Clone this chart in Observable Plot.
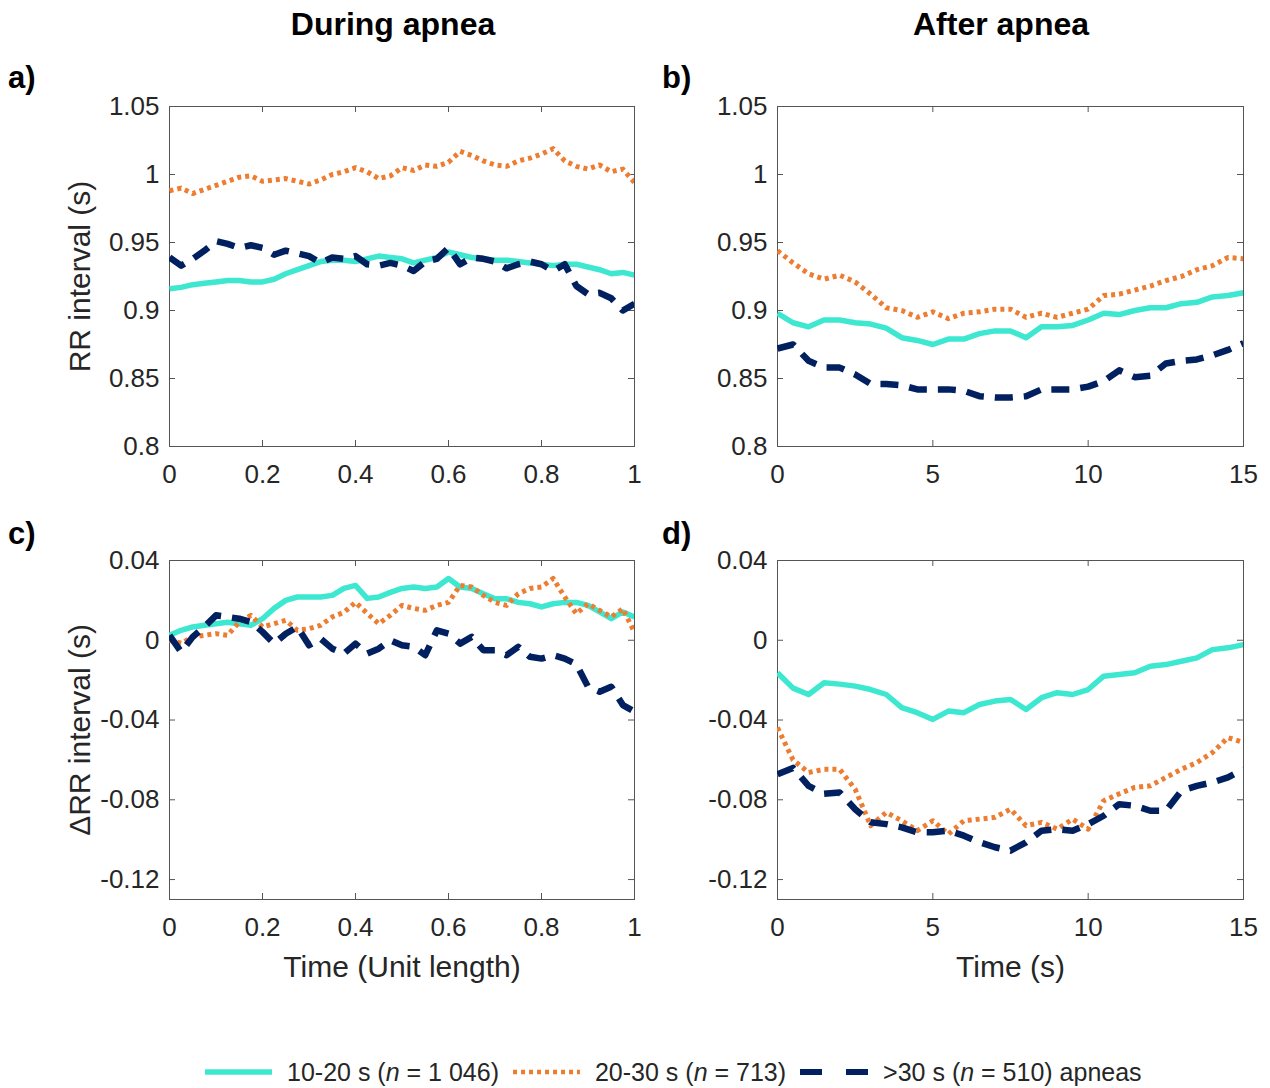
<!DOCTYPE html>
<html>
<head>
<meta charset="utf-8">
<script src="https://cdn.jsdelivr.net/npm/d3@7"></script>
<script src="https://cdn.jsdelivr.net/npm/@observablehq/plot@0.6"></script>
<style>
  body { margin: 0; background: #fff; font-family: "Liberation Sans", Arial, Helvetica, sans-serif; }
  #wrap { position: relative; width: 1270px; height: 1088px; overflow: hidden; background: #fff; }
  .abs { position: absolute; }
  .title { font-weight: bold; font-size: 32px; line-height: 36px; color: #000; transform: translateX(-50%); white-space: nowrap; }
  .plab { font-weight: bold; font-size: 31px; line-height: 36px; color: #000; }
  #legend { position: absolute; left: 205px; top: 1056px; height: 32px; display: flex; align-items: center; font-size: 25px; color: #262626; white-space: nowrap; }
  #legend svg { display: block; margin-right: 15px; }
  #legend span { margin-right: 14px; }
</style>
</head>
<body>
<div id="wrap">
  <div class="abs title" style="left:393px; top:6px;">During apnea</div>
  <div class="abs title" style="left:1001px; top:6px;">After apnea</div>
  <div class="abs plab" style="left:8px; top:60px;">a)</div>
  <div class="abs plab" style="left:662px; top:60px;">b)</div>
  <div class="abs plab" style="left:8px; top:516px;">c)</div>
  <div class="abs plab" style="left:662px; top:516px;">d)</div>
  <div id="pa" class="abs" style="left:0px; top:80px;"></div>
  <div id="pb" class="abs" style="left:640px; top:80px;"></div>
  <div id="pc" class="abs" style="left:0px; top:534px;"></div>
  <div id="pd" class="abs" style="left:640px; top:534px;"></div>
  <div id="legend">
    <svg width="67" height="12"><line x1="0" y1="6" x2="67" y2="6" stroke="#3EE8D0" stroke-width="5.5"/></svg>
    <span>10-20 s (<i>n</i> = 1 046)</span>
    <svg width="67" height="12"><line x1="0" y1="6" x2="67" y2="6" stroke="#ED7D31" stroke-width="4.5" stroke-dasharray="4,4"/></svg>
    <span>20-30 s (<i>n</i> = 713)</span>
    <svg width="68" height="12"><line x1="0" y1="6" x2="68" y2="6" stroke="#002060" stroke-width="6" stroke-dasharray="22,24"/></svg>
    <span>&gt;30 s (<i>n</i> = 510) apneas</span>
  </div>
</div>
<script>
// ---------- x grids ----------
const xUnit = [0,0.025,0.05,0.075,0.1,0.125,0.15,0.175,0.2,0.225,0.25,0.275,0.3,0.325,0.35,0.375,0.4,0.425,0.45,0.475,0.5,0.525,0.55,0.575,0.6,0.625,0.65,0.675,0.7,0.725,0.75,0.775,0.8,0.825,0.85,0.875,0.9,0.925,0.95,0.975,1];
const xSec = [0,0.5,1,1.5,2,2.5,3,3.5,4,4.5,5,5.5,6,6.5,7,7.5,8,8.5,9,9.5,10,10.5,11,11.5,12,12.5,13,13.5,14,14.5,15];

// ---------- tick labels ----------
const xTicksUnit = [0,0.2,0.4,0.6,0.8,1];
const xTicksSec = [0,5,10,15];
const yTicksRR = [0.8,0.85,0.9,0.95,1,1.05];
const yTicksDelta = [-0.12,-0.08,-0.04,0,0.04];

// ---------- series names ----------
const seriesNames = ["10-20 s", "20-30 s", ">30 s"];

// ---------- a) RR interval during apnea ----------
const a_10_20 = [0.916,0.917,0.919,0.920,0.921,0.922,0.922,0.921,0.921,0.923,0.927,0.930,0.933,0.936,0.937,0.937,0.936,0.938,0.940,0.939,0.938,0.935,0.937,0.939,0.943,0.941,0.939,0.938,0.937,0.937,0.936,0.935,0.934,0.933,0.934,0.934,0.932,0.930,0.927,0.928,0.926];
const a_20_30 = [0.988,0.990,0.986,0.989,0.992,0.995,0.998,0.999,0.995,0.996,0.997,0.995,0.993,0.996,1.000,1.002,1.005,1.002,0.997,0.999,1.005,1.003,1.007,1.006,1.009,1.017,1.014,1.010,1.007,1.006,1.010,1.012,1.015,1.019,1.010,1.006,1.004,1.007,1.002,1.004,0.994];
const a_30 = [0.939,0.933,0.938,0.944,0.951,0.949,0.946,0.948,0.946,0.941,0.944,0.942,0.940,0.935,0.939,0.938,0.940,0.934,0.933,0.935,0.933,0.929,0.936,0.938,0.946,0.934,0.939,0.938,0.936,0.931,0.934,0.936,0.934,0.929,0.934,0.918,0.912,0.913,0.909,0.900,0.905];

// ---------- b) RR interval after apnea ----------
const b_10_20 = [0.898,0.891,0.888,0.893,0.893,0.891,0.890,0.887,0.880,0.878,0.875,0.879,0.879,0.883,0.885,0.885,0.880,0.888,0.888,0.889,0.893,0.898,0.897,0.900,0.902,0.902,0.905,0.906,0.910,0.911,0.913];
const b_20_30 = [0.944,0.935,0.927,0.923,0.926,0.921,0.912,0.902,0.900,0.895,0.899,0.894,0.898,0.899,0.901,0.901,0.895,0.898,0.895,0.898,0.901,0.911,0.912,0.915,0.918,0.922,0.925,0.930,0.933,0.939,0.938];
const b_30 = [0.872,0.875,0.863,0.858,0.858,0.853,0.846,0.846,0.845,0.842,0.842,0.842,0.841,0.837,0.836,0.836,0.837,0.842,0.842,0.842,0.844,0.848,0.856,0.851,0.852,0.861,0.863,0.864,0.867,0.871,0.876];

// ---------- c) ΔRR interval during apnea ----------
const c_10_20 = [0.0025,0.005,0.0067,0.0075,0.0083,0.009,0.0083,0.0075,0.0108,0.016,0.02,0.0217,0.0217,0.0217,0.0225,0.026,0.0275,0.021,0.0217,0.024,0.026,0.0267,0.026,0.0267,0.031,0.0267,0.026,0.0233,0.0208,0.0208,0.019,0.0183,0.0167,0.0183,0.019,0.019,0.0175,0.0142,0.0108,0.0142,0.0117];
const c_20_30 = [0,-0.0015,0.0017,0.0025,0.0033,0.0025,0.0092,0.0125,0.0067,0.0083,0.01,0.005,0.0058,0.0075,0.0117,0.014,0.019,0.0135,0.0083,0.0125,0.0175,0.016,0.015,0.0175,0.019,0.0275,0.0267,0.0225,0.019,0.0175,0.0233,0.026,0.0267,0.031,0.0217,0.0133,0.0183,0.015,0.0117,0.0158,0.004];
const c_30 = [0.0025,-0.0058,0.0017,0.0067,0.0125,0.0117,0.0108,0.0092,0.0042,-0.0017,0.0033,0.0067,-0.0025,0.0008,-0.0042,-0.0067,-0.0017,-0.0067,-0.0042,0,-0.0025,-0.0033,-0.0075,0.005,0.0033,-0.0017,0.0017,-0.005,-0.005,-0.0075,-0.0033,-0.0083,-0.0092,-0.0075,-0.0092,-0.012,-0.0233,-0.0258,-0.0233,-0.0325,-0.0358];

// ---------- d) ΔRR interval after apnea ----------
const d_10_20 = [-0.0163,-0.024,-0.0272,-0.0213,-0.022,-0.023,-0.0247,-0.0272,-0.0338,-0.0363,-0.0397,-0.0355,-0.0363,-0.0322,-0.0305,-0.0297,-0.0347,-0.0288,-0.0263,-0.0272,-0.0247,-0.018,-0.0172,-0.0163,-0.013,-0.0122,-0.0105,-0.0088,-0.0047,-0.0038,-0.0022];
const d_20_30 = [-0.0438,-0.06,-0.0663,-0.0647,-0.0647,-0.0747,-0.093,-0.0863,-0.0905,-0.0955,-0.0905,-0.0972,-0.0905,-0.0897,-0.0888,-0.0847,-0.093,-0.0913,-0.0947,-0.0897,-0.0947,-0.0805,-0.077,-0.0738,-0.073,-0.0688,-0.0647,-0.0613,-0.0563,-0.0488,-0.0513];
const d_30 = [-0.0672,-0.064,-0.073,-0.077,-0.0763,-0.0847,-0.0913,-0.0922,-0.0938,-0.0963,-0.0963,-0.0955,-0.098,-0.1013,-0.1038,-0.1055,-0.1013,-0.0955,-0.0947,-0.0955,-0.0922,-0.088,-0.0822,-0.083,-0.0855,-0.0855,-0.0755,-0.073,-0.0713,-0.0688,-0.0647];

// ---------- styles ----------
const styles = {
  "10-20 s": {stroke: "#3EE8D0", strokeWidth: 5.5},
  "20-30 s": {stroke: "#ED7D31", strokeWidth: 5, strokeDasharray: "4,4"},
  ">30 s":   {stroke: "#002060", strokeWidth: 6.5, strokeDasharray: "18,11"}
};
const FONT = '"Liberation Sans", Arial, Helvetica, sans-serif';
const fmt = d => String(+(+d).toFixed(3));

function table(xs, ys) { return xs.map((x, i) => ({x, y: ys[i]})); }

function panel(o) {
  const fw = o.width - o.ml - o.mr;
  const fh = o.height - o.mt - o.mb;
  const axisCol = "#555";
  const marks = [
    Plot.frame({stroke: axisCol, strokeWidth: 1}),
    Plot.tickX(o.xt, {x: d => d, insetTop: fh - 6, stroke: axisCol}),
    Plot.tickX(o.xt, {x: d => d, insetBottom: fh - 6, stroke: axisCol}),
    Plot.tickY(o.yt, {y: d => d, insetRight: fw - 6, stroke: axisCol}),
    Plot.tickY(o.yt, {y: d => d, insetLeft: fw - 6, stroke: axisCol}),
    Plot.axisX(o.xt, {tickSize: 0, tickPadding: 18, tickFormat: fmt, fontSize: 26, label: null, color: "#262626"}),
    Plot.axisY(o.yt, {tickSize: 0, tickPadding: 10, tickFormat: fmt, fontSize: 26, label: null, color: "#262626"})
  ];
  o.series.forEach((ys, i) => {
    const name = seriesNames[i];
    marks.push(Plot.line(table(o.xs, ys), {x: "x", y: "y", ...styles[name], strokeLinecap: "butt", strokeLinejoin: "round", clip: true}));
  });
  if (o.ylabel) marks.push(Plot.text([o.ylabel], {text: d => d, frameAnchor: "left", textAnchor: "middle", lineAnchor: "middle", dx: -89, rotate: -90, fontSize: 30, fill: "#262626"}));
  if (o.xlabel) marks.push(Plot.text([o.xlabel], {text: d => d, frameAnchor: "bottom", textAnchor: "middle", lineAnchor: "middle", dy: 68, fontSize: 30, fill: "#262626"}));
  return Plot.plot({
    width: o.width, height: o.height,
    marginLeft: o.ml, marginRight: o.mr, marginTop: o.mt, marginBottom: o.mb,
    style: {fontFamily: FONT, fontSize: "26px", background: "transparent", color: "#262626", overflow: "visible"},
    x: {domain: o.xd, axis: null},
    y: {domain: o.yd, axis: null},
    marks
  });
}

document.getElementById("pa").append(panel({
  width: 660, height: 426, ml: 169, mr: 26, mt: 26, mb: 60,
  xd: [0, 1], yd: [0.8, 1.05], xt: xTicksUnit, yt: yTicksRR, xs: xUnit,
  series: [a_10_20, a_20_30, a_30], ylabel: "RR interval (s)"
}));
document.getElementById("pb").append(panel({
  width: 630, height: 426, ml: 137, mr: 27, mt: 26, mb: 60,
  xd: [0, 15], yd: [0.8, 1.05], xt: xTicksSec, yt: yTicksRR, xs: xSec,
  series: [b_10_20, b_20_30, b_30]
}));
document.getElementById("pc").append(panel({
  width: 660, height: 460, ml: 169, mr: 26, mt: 26, mb: 95,
  xd: [0, 1], yd: [-0.13, 0.04], xt: xTicksUnit, yt: yTicksDelta, xs: xUnit,
  series: [c_10_20, c_20_30, c_30], ylabel: "\u0394RR interval (s)", xlabel: "Time (Unit length)"
}));
document.getElementById("pd").append(panel({
  width: 630, height: 460, ml: 137, mr: 27, mt: 26, mb: 95,
  xd: [0, 15], yd: [-0.13, 0.04], xt: xTicksSec, yt: yTicksDelta, xs: xSec,
  series: [d_10_20, d_20_30, d_30], xlabel: "Time (s)"
}));
</script>
</body>
</html>
